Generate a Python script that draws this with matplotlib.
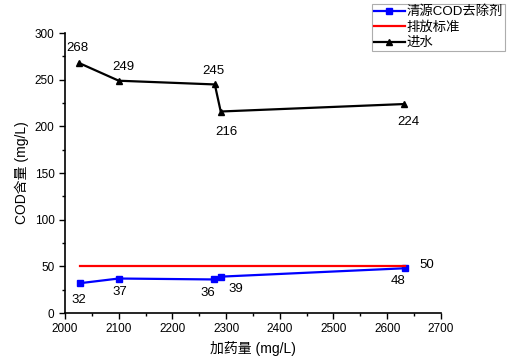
import matplotlib
matplotlib.use('Agg')
import matplotlib.pyplot as plt
from matplotlib.ticker import MultipleLocator

plt.rcParams['font.family'] = ['Liberation Sans', 'Noto Sans CJK SC', 'DejaVu Sans']

# data
dose_blue = [2028, 2100, 2277, 2290, 2633]
cod_blue = [32, 37, 36, 39, 48]
dose_std = [2028, 2633]
cod_std = [50, 50]
dose_in = [2026, 2100, 2279, 2290, 2632]
cod_in = [268, 249, 245, 216, 224]

fig = plt.figure(figsize=(5.12, 3.64), dpi=100)
ax = fig.add_axes([0.127, 0.14, 0.734, 0.769])

ax.plot(dose_blue, cod_blue, color='#0000ff', marker='s', markersize=4.5, lw=1.6, label='清源COD去除剂')
ax.plot(dose_std, cod_std, color='#ff0000', lw=1.6, label='排放标准')
ax.plot(dose_in, cod_in, color='black', marker='^', markersize=5, lw=1.6, label='进水')

fs = 9.5
# labels for inflow
offs_in = [(-1, 11), (3, 10), (-1, 10), (4, -15), (3, -13)]
for x, y, (dx, dy) in zip(dose_in, cod_in, offs_in):
    ax.annotate(str(y), (x, y), xytext=(dx, dy), textcoords='offset points',
                ha='center', va='center', fontsize=fs)
offs_blue = [(-1, -12), (1, -10), (-4, -10), (11, -9), (-5, -9)]
for x, y, (dx, dy) in zip(dose_blue, cod_blue, offs_blue):
    ax.annotate(str(y), (x, y), xytext=(dx, dy), textcoords='offset points',
                ha='center', va='center', fontsize=fs)
ax.annotate('50', (dose_std[-1], cod_std[-1]), xytext=(16, 1), textcoords='offset points',
            ha='center', va='center', fontsize=fs)

ax.set_xlim(2000, 2700)
ax.set_ylim(0, 300)
ax.xaxis.set_major_locator(MultipleLocator(100))
ax.xaxis.set_minor_locator(MultipleLocator(50))
ax.yaxis.set_major_locator(MultipleLocator(50))
ax.yaxis.set_minor_locator(MultipleLocator(25))
ax.tick_params(which='both', direction='out', labelsize=8.5, width=1)
ax.tick_params(which='major', length=4)
ax.tick_params(which='minor', length=2.5)
ax.spines['top'].set_visible(False)
ax.spines['right'].set_visible(False)
ax.spines['left'].set_linewidth(1.2)
ax.spines['bottom'].set_linewidth(1.2)

ax.set_xlabel('加药量 (mg/L)', fontsize=10)
ax.set_ylabel('COD含量 (mg/L)', fontsize=10)

leg = fig.legend(loc='upper right', bbox_to_anchor=(0.992, 0.997), fontsize=9.6,
                 frameon=True, fancybox=False, edgecolor='#999999',
                 handlelength=2.3, handletextpad=0.15, borderpad=0.15, labelspacing=0.22,
                 borderaxespad=0.2)
leg.get_frame().set_linewidth(0.8)

fig.savefig('out.png', dpi=100)
